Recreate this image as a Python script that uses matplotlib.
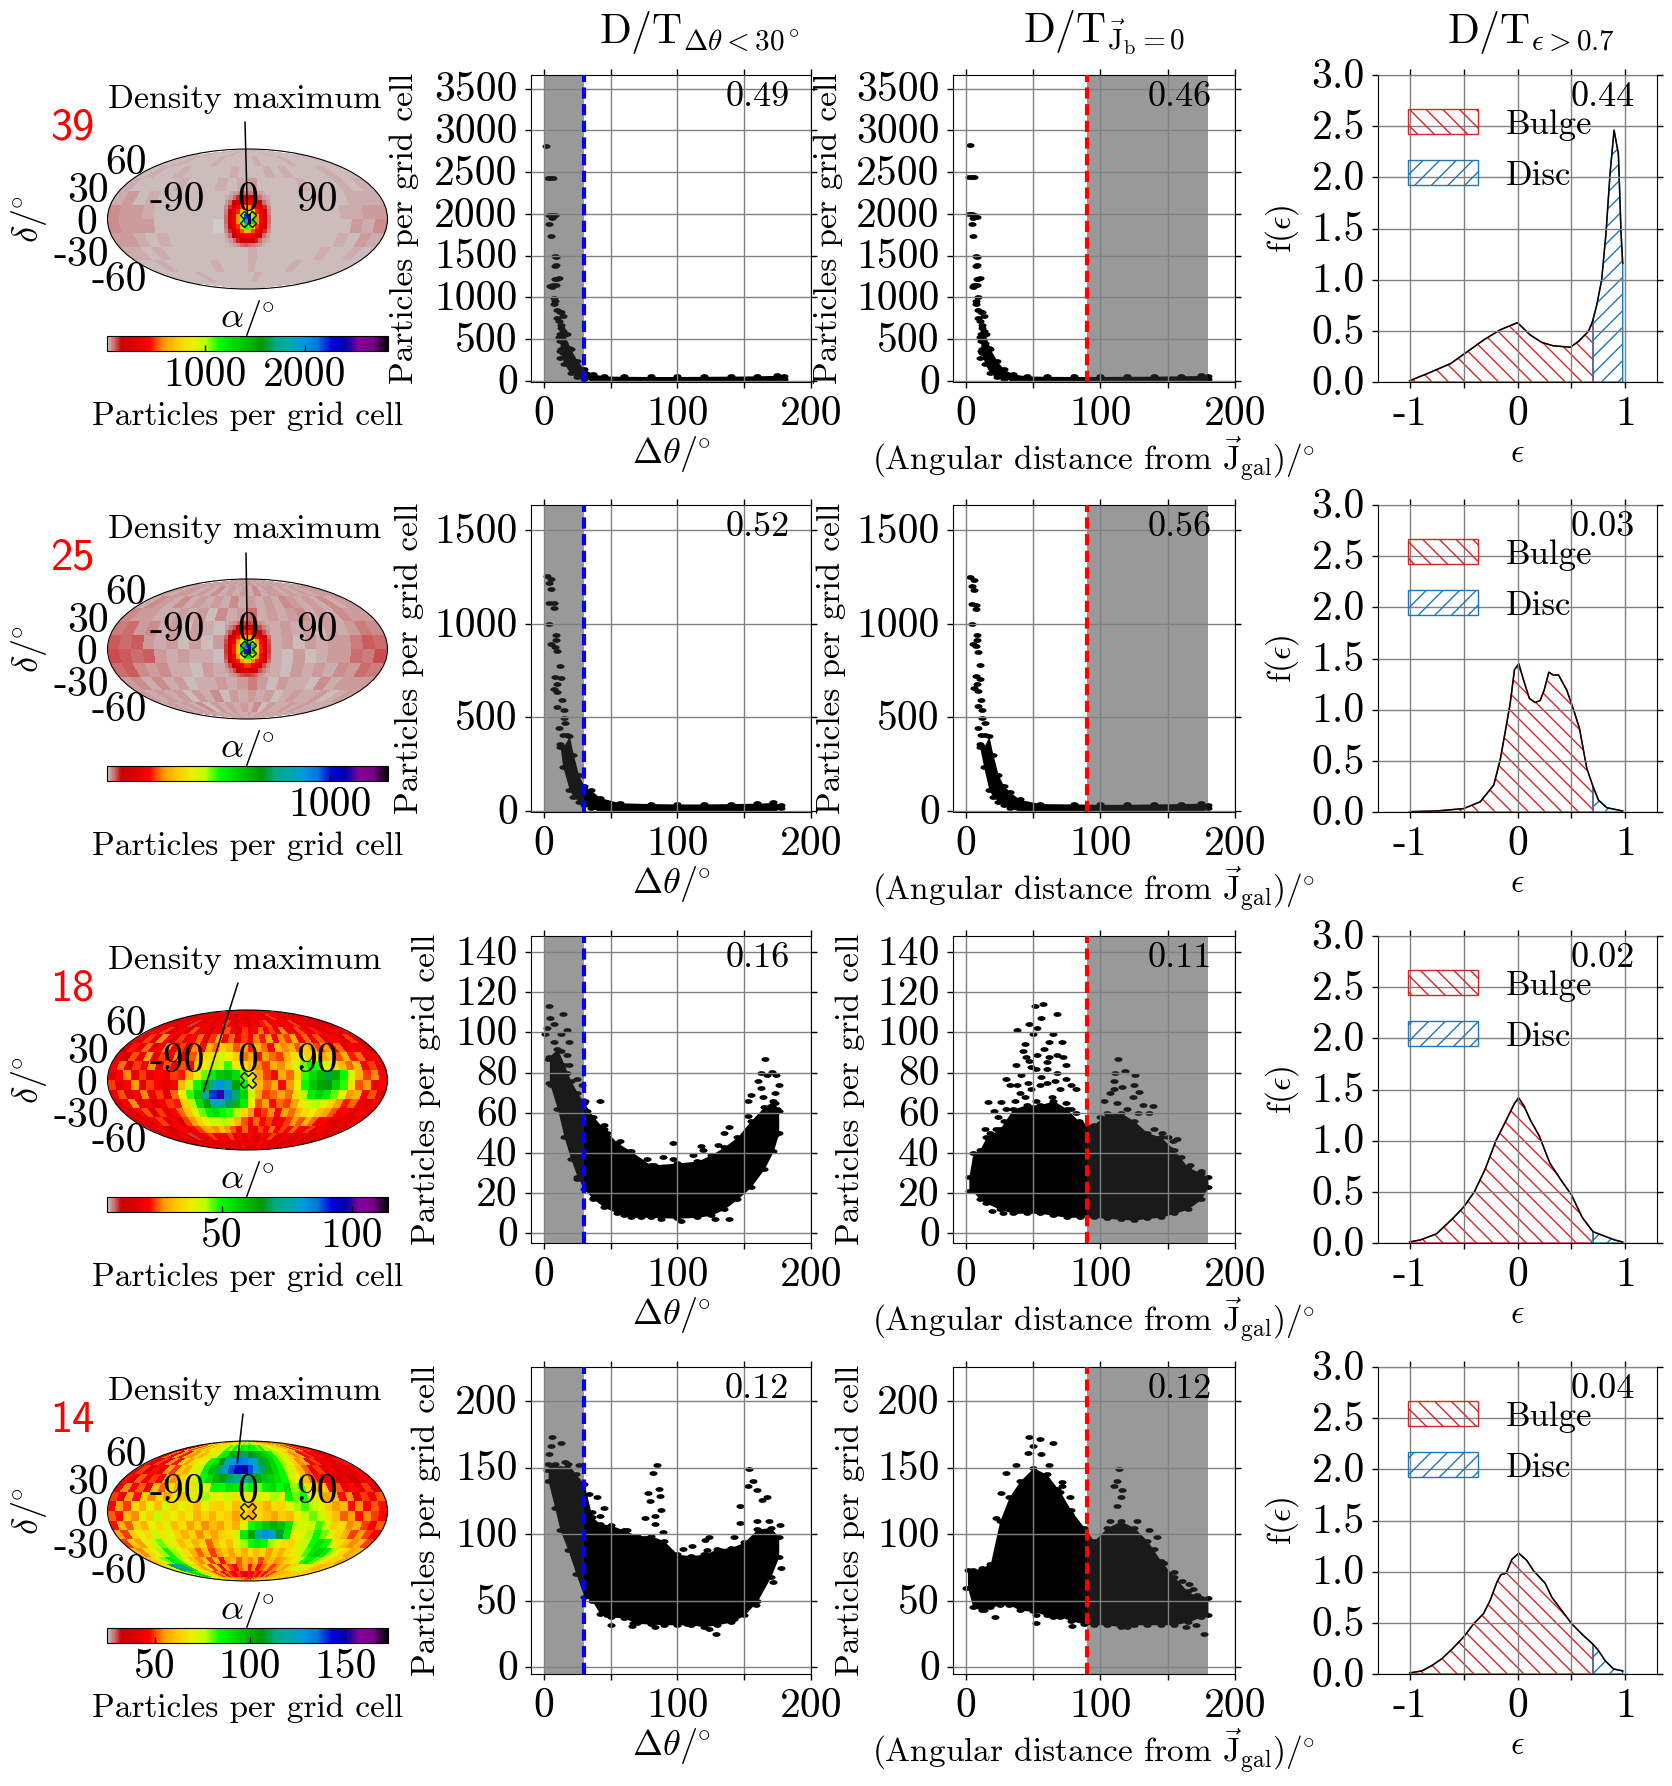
import numpy as np
import matplotlib
matplotlib.use('Agg')
import matplotlib.pyplot as plt
from matplotlib.colors import Normalize
from matplotlib.path import Path
from matplotlib.transforms import Affine2D

plt.rcParams['font.family'] = 'cmr10'
plt.rcParams['mathtext.fontset'] = 'cm'
plt.rcParams['axes.unicode_minus'] = False
plt.rcParams['axes.formatter.use_mathtext'] = True

W, H = 1672, 1786
FS = 30  # tick labels
LS = 24  # axis labels

counts = ['39', '25', '18', '14']
dt_theta = ['0.49', '0.52', '0.16', '0.12']
dt_jb = ['0.46', '0.56', '0.11', '0.12']
dt_eps = ['0.44', '0.03', '0.02', '0.04']

# sky maps: vmin, vmax, colourbar ticks, position of the density maximum (lon, lat)
vmins = [20, 20, 5.8, 25]
vmaxs = [2830, 1255, 114, 172.5]
cb_ticks = [[1000, 2000], [1000], [50, 100], [50, 100, 150]]
max_lon = [0, 0, -57, -18]
max_lat = [2, 2, -12, 53]
line_top = [(245, 122), (246, 553), (238, 983), (243, 1414)]

# 15 degree background cells, north to south
bg1 = [
[38,40,36,42,38,34,40,37,43,36,39,35,38,41,34,39,37,42,35,40,38,36,41,37],
[40,35,42,38,33,40,36,44,34,39,32,41,37,43,35,38,40,33,42,36,39,34,41,38],
[37,43,39,35,45,36,41,32,40,36,44,33,39,37,42,34,44,38,32,41,35,43,37,40],
[46,38,41,36,32,42,34,39,31,43,36,42,54,37,41,32,38,43,34,39,33,44,38,42],
[50,56,40,44,34,39,31,40,35,32,40,60,72,50,36,40,33,38,31,41,36,42,52,48],
[66,56,60,42,37,41,32,38,31,39,34,72,86,52,33,38,31,40,34,38,42,50,62,58],
[70,60,54,60,39,35,40,33,36,30,39,74,88,48,35,32,39,31,36,40,38,56,52,66],
[54,60,44,38,43,33,36,31,39,34,32,58,70,44,34,31,38,33,39,35,43,40,56,50],
[42,46,37,43,33,39,31,37,33,40,35,40,52,38,32,39,34,36,31,43,34,38,42,38],
[38,35,42,33,38,32,40,34,43,31,38,35,42,33,39,32,37,42,33,36,40,32,35,39],
[36,39,33,40,36,43,32,38,34,41,33,40,35,43,32,38,36,33,40,34,39,37,33,36],
[38,36,40,36,39,34,37,41,35,39,36,33,40,37,35,39,34,38,36,40,35,37,39,36]]
bg2 = [
[34,36,32,38,35,31,37,34,39,33,36,32,35,38,31,36,34,38,32,37,35,33,38,34],
[36,32,38,35,30,37,33,41,31,36,30,38,34,40,32,35,37,30,38,33,36,31,38,35],
[34,40,36,32,43,33,38,30,37,33,42,30,36,34,39,31,42,35,30,38,32,40,34,37],
[44,35,38,33,30,39,31,36,29,40,33,38,50,34,38,30,35,40,31,36,30,42,35,39],
[46,52,37,41,31,36,29,37,32,29,37,56,64,46,33,37,30,35,29,38,33,39,48,44],
[58,52,56,39,34,38,29,35,29,36,31,64,72,48,30,35,29,37,31,35,39,46,56,52],
[62,56,50,56,36,32,37,30,33,28,36,66,74,44,32,29,36,29,33,37,35,52,48,60],
[50,56,41,35,40,30,33,29,36,31,29,54,64,40,31,29,35,30,36,32,40,37,52,46],
[38,43,34,40,30,36,29,34,30,37,32,37,48,35,29,36,31,33,29,40,31,35,39,35],
[35,32,39,30,35,29,37,31,40,29,35,32,39,30,36,29,34,39,30,33,37,29,32,36],
[33,36,30,37,33,40,29,35,31,38,30,37,32,40,29,35,33,30,37,31,36,34,30,33],
[35,33,37,33,36,31,34,38,32,36,33,30,37,34,32,36,31,35,33,37,32,34,36,33]]

# 5 degree cells, lon and lat -30..30, over the central peak
core1 = [
[40,48,58,70,85,95,95,85,70,58,48,40],
[48,62,95,140,185,230,225,185,140,95,62,48],
[58,95,170,260,350,420,410,350,260,170,95,58],
[70,140,270,400,500,600,590,500,400,270,140,70],
[85,180,350,480,720,950,950,720,480,350,180,85],
[95,220,400,580,1050,2200,2400,1050,580,400,220,95],
[95,220,400,580,1050,2000,2800,1250,580,400,220,95],
[85,180,360,490,740,1150,1100,740,490,360,180,85],
[70,140,275,410,520,650,630,510,410,275,140,70],
[58,95,175,265,360,430,415,350,265,175,95,58],
[48,62,95,145,190,235,230,190,145,95,62,48],
[40,48,58,72,88,98,96,85,72,58,48,40]]
core2 = [
[34,38,44,52,60,66,66,60,52,44,38,34],
[38,46,62,84,110,130,128,110,84,62,46,38],
[44,62,100,145,190,225,220,190,145,100,62,44],
[52,84,145,215,260,310,305,260,210,145,84,52],
[60,105,190,270,400,530,530,400,270,190,105,60],
[66,125,215,320,560,900,1000,560,320,215,125,66],
[66,125,215,320,560,1000,1250,580,320,215,125,66],
[60,105,190,270,410,550,530,400,270,190,105,60],
[52,84,145,215,270,315,310,260,215,145,84,52],
[44,62,100,150,195,230,225,190,150,100,62,44],
[38,46,62,84,110,130,128,110,84,62,46,38],
[34,38,44,52,60,66,66,60,52,44,38,34]]

# 10 degree cells, north to south
map3 = [
[18,20,17,20,19,16,20,18,21,17,19,18,20,18,20,22,19,17,20,18,19,18,20,19,17,20,18,21,18,19,19,17,20,18,19,18],
[16,20,18,13,21,17,19,15,20,18,16,21,18,19,16,21,18,17,20,19,22,18,21,16,19,24,18,21,17,20,16,19,18,21,16,18],
[18,15,20,17,21,16,10,19,18,21,16,20,18,24,19,17,21,19,16,21,18,23,25,20,22,18,21,19,24,16,20,18,11,19,17,15],
[16,21,18,24,15,19,21,17,25,19,21,16,22,19,25,21,18,24,20,22,26,21,24,19,27,22,19,25,21,18,23,19,17,21,15,19],
[19,17,24,18,27,21,16,24,19,22,26,18,24,29,22,26,19,24,22,27,23,29,21,27,24,30,21,26,19,25,18,22,20,16,24,17],
[15,23,19,26,17,22,28,19,24,18,27,22,30,26,33,30,25,28,23,30,26,22,31,27,30,25,33,28,24,29,21,26,18,22,19,16],
[18,14,25,19,28,18,24,21,27,17,25,31,36,35,42,38,33,26,29,23,29,26,24,30,35,40,34,38,29,33,25,30,23,26,19,21],
[21,26,17,24,21,27,17,25,20,25,22,32,38,44,42,48,40,35,32,27,24,30,27,33,41,46,50,48,42,37,31,26,31,21,24,18],
[17,22,27,19,24,18,22,19,24,23,30,40,46,52,58,60,54,46,37,29,24,22,30,26,36,48,54,60,68,62,50,41,30,24,27,21],
[24,18,22,28,17,24,21,18,21,31,42,50,60,74,82,76,64,50,39,31,26,30,22,28,38,50,58,64,66,56,48,37,25,28,19,22],
[19,25,17,22,27,19,24,17,26,38,48,58,72,90,100,86,70,56,41,29,24,26,29,26,35,44,52,56,52,46,38,28,30,21,25,18],
[17,21,27,18,22,15,21,24,23,34,44,54,64,76,74,68,60,52,38,25,29,22,26,24,29,37,42,44,40,34,28,23,26,19,17,21],
[19,15,22,25,17,24,18,22,26,32,40,46,52,54,50,48,44,35,28,22,24,27,22,29,26,31,35,38,32,29,25,21,22,17,21,18],
[15,19,17,21,24,18,21,17,24,28,34,38,42,41,44,36,31,25,22,26,21,24,19,22,24,28,25,31,26,21,22,18,15,19,17,21],
[18,14,21,17,12,19,22,18,21,24,28,30,27,32,28,25,22,26,21,18,24,21,26,19,24,21,26,22,19,24,17,21,18,12,19,15],
[17,19,15,18,21,15,10,19,17,21,24,19,22,19,24,18,21,17,22,19,17,21,18,24,19,17,21,18,11,19,21,15,18,19,15,18],
[17,15,18,17,19,16,18,15,19,17,18,21,17,19,18,16,20,18,17,21,15,19,22,17,19,18,15,19,17,18,16,19,17,15,18,17],
[18,17,18,16,18,19,17,18,16,18,19,17,20,18,16,18,23,17,18,16,19,18,17,19,16,18,17,18,20,16,18,17,18,16,18,18]]
map4 = [
[50,58,64,60,68,56,62,70,66,72,68,74,70,78,72,76,80,74,78,82,76,72,78,70,74,66,70,62,68,60,64,56,62,52,58,54],
[48,42,56,50,62,54,66,60,70,66,74,70,82,78,84,80,88,84,92,86,84,80,86,76,78,70,74,64,68,58,62,50,56,44,50,46],
[40,52,46,56,48,60,54,64,58,68,74,70,84,90,100,104,110,112,106,108,100,96,92,86,78,76,68,62,54,58,46,50,42,48,40,44],
[46,40,50,44,54,48,62,56,66,72,70,84,92,106,120,128,134,132,128,122,110,100,94,84,78,70,64,54,58,46,50,42,46,38,44,48],
[42,50,40,48,42,56,50,62,58,70,76,88,98,112,128,138,146,150,138,124,112,100,92,84,76,66,60,52,44,50,42,46,38,44,40,44],
[48,40,52,44,50,46,60,54,64,68,74,84,92,100,104,112,116,118,112,102,96,94,90,84,74,70,60,52,48,40,46,38,44,36,42,46],
[42,54,46,52,44,60,52,66,58,70,66,76,72,86,84,90,88,82,86,80,88,92,84,90,78,82,66,58,62,46,52,44,48,42,50,40],
[50,44,56,48,62,54,64,56,68,60,74,66,78,72,70,76,66,72,68,74,70,78,74,86,80,84,72,66,56,60,48,54,42,50,44,52],
[46,56,50,66,58,70,60,74,64,72,66,60,70,64,62,68,60,66,60,64,58,66,64,72,78,82,76,70,62,56,60,48,54,46,52,48],
[52,48,60,54,72,62,76,66,70,62,68,58,64,58,66,62,56,62,58,64,60,56,62,60,70,76,80,74,66,60,52,56,48,54,50,46],
[48,58,52,64,58,70,64,72,60,66,56,62,54,60,56,64,58,72,84,90,96,102,98,90,76,72,76,82,74,62,66,54,58,50,46,52],
[56,50,62,70,64,76,68,72,64,58,64,54,62,56,62,66,74,88,104,120,130,124,108,88,70,70,78,86,80,72,64,58,50,56,50,46],
[50,62,56,68,74,80,74,68,60,66,58,64,52,60,66,60,72,78,84,88,84,78,70,66,64,72,76,84,90,84,74,66,60,54,58,50],
[60,54,66,70,78,86,78,72,66,58,52,60,50,56,62,56,64,58,66,60,64,56,62,58,66,68,74,82,90,94,88,78,70,64,56,60],
[58,64,72,80,90,84,76,68,60,54,62,50,58,48,56,60,52,58,54,60,50,56,60,54,58,64,68,74,84,88,82,76,68,62,64,56],
[66,72,100,128,112,90,76,62,56,64,50,58,46,54,50,44,52,56,48,54,46,52,56,50,54,60,56,64,66,72,74,68,64,60,58,62],
[66,74,86,94,86,74,64,70,58,50,56,46,52,48,44,50,46,42,48,44,50,46,52,48,54,50,56,60,58,64,60,66,62,60,64,62],
[64,70,74,78,72,68,62,66,60,56,60,54,58,52,56,50,54,50,44,52,48,54,50,56,52,58,54,60,56,62,58,64,60,62,60,62]]

# scatter panels: single points, then the solid part of the cloud (x, lower, upper)
th1_x = [1.5,3,5,7,4,6,8,4,5,8,8,8,10,4.5,9,7.5,7.5,12,10,12.4,15,11,15,14,17,6,7,9,9,11,7,6,8,10,13,14,11,13,14,17,12,16,13,19,12]
th1_y = [2817,2430,2430,2430,1985,1985,1985,1885,1735,1500,1380,1225,1215,1135,1150,990,920,830,750,670,550,530,450,330,330,1950,1970,1480,1385,1230,1150,1130,960,850,820,780,720,640,600,560,480,420,380,390,280]
th1_cx = [12,15,20,25,30,37,45,60,80,100,120,140,160,175,180]
th1_lo = [360,200,90,45,25,10,0,0,0,0,0,0,0,0,20]
th1_hi = [560,560,380,240,140,85,60,56,54,54,56,58,62,68,55]

ja1_x = [3,2,4,6,2,4,6,8,4,5,7,7,8,9,5,8,9,7,11,9,12,13,10,14,12,5,6,8,8,10,6,5,7,9,12,13,10,12,13,15,11,14,12,17,10]
ja1_y = [2820,2440,2440,2440,2000,2000,1985,1960,1880,1740,1500,1380,1225,1225,1135,1150,1000,920,830,750,670,550,530,450,330,1950,1970,1480,1385,1230,1150,1130,960,850,820,780,720,640,600,560,480,420,380,390,280]
ja1_cx = [11,14,18,23,28,35,45,60,80,100,120,140,160,175,180]
ja1_lo = [360,200,90,45,25,10,0,0,0,0,0,0,0,0,20]
ja1_hi = [560,560,380,240,140,85,60,56,54,54,56,58,62,66,55]

th2_x = [2.5,5,3.7,5,3.7,7.5,7.5,4,8.7,8.7,5,8,10,12,8,12.4,10,7.5,10,13.7,10,15,15,11,16,17.4,14]
th2_y = [1256,1238,1217,1187,1110,1110,1084,998,938,915,893,879,856,775,718,709,679,652,638,593,558,540,495,442,469,406,406]
th2_cx = [12,14,19,22,26,30,35,42,57,80,100,120,140,160,172,178]
th2_lo = [344,237,112,77,50,30,15,0,0,0,0,0,0,0,0,15]
th2_hi = [360,340,400,300,190,135,112,72,44,40,38,38,40,42,46,32]

ja2_x = [3,6,4,6,4,7,7,4,8,8,5,7,9,10,7,10,8,6,9,11,9,12,12,9,14,14,11]
ja2_y = [1250,1235,1200,1180,1105,1100,1080,1000,940,915,895,880,850,780,720,705,680,655,640,595,560,540,495,445,470,405,405]
ja2_cx = [10,13,17,20,24,28,33,40,55,80,100,120,140,160,175,180]
ja2_lo = [344,237,112,77,50,30,15,0,0,0,0,0,0,0,0,15]
ja2_hi = [360,340,400,300,190,135,100,62,40,38,36,36,38,40,42,32]

th3_x = [3.7,14.4,4.2,7.5,2.5,17,1,12.4,18.7,7.5,12.4,17.4,3.2,19,8,17.4,25,5,28.6,31,42,32,45,47,57,97,118,130.6,119,64.7,77,89.5,112,97,82.5,25,37,60,73,88,103,128,139,166,170.6,163,167,174,160.5,176,163,173,155.4,164,173,153,174.4,153,139,135,173]
th3_y = [113,109,107,104,102,101,99,99,95,95,91,89,87,84,83,80,77,74,74,66,66,61,54,50,46,45,43.5,44,41.5,41,37,38,39,37,34,27,17.5,9,8,7,6,7,7,87,80.5,80,79,79,76,74,72.5,70,69,68,65,66,62,58.6,53,50,49]
th3_cx = [4,10,15,20,25,30,37,45,55,65,80,100,115,125,135,145,155,165,172,176]
th3_lo = [75,62,48,37,28,22,17,13,10,8,8,7.5,8,9,12,17,23,32,41,50]
th3_hi = [88,92,84,76,70,65,58,52,45,41,34,35,36,39,43,48,56,63,66,61]

ja3_x = [57,51,68,56,46.6,53,38,50,65,71,62,43.6,42.6,53,68,44.6,113,60,37,74,48.6,60,41,68,111,118,126,30,74,110,46,55,125,33,78,110,82,129,16,26,139,21,157,152,160,167,175,19,27.6,36,
         30,36,38,40,44,48,52,56,60,64,70,74,78,82,84,28,24,22,18,14,103,107,112,116,120,124,128,132,136,100,140,146,150,154,72,62,58,66,47,52]
ja3_y = [114,113,109,107,104,102,101,99,99,95,95,94,91,89,89,88,87,85.5,84,84,83,82,79,80,80,81,79,77,77,76,75,74,74,74,74,72,72,70.6,65.6,65.6,63.6,61,47,42,38,34,31,11,10,11,
         62,66,74,70,68,72,66,78,75,68,72,65,62,60,56,56,58,52,50,52,66,70,65,73,62,68,60,64,60,58,52,50,48,46,88,88,92,76,86,82]
ja3_cx = [2,5,10,15,25,35,45,55,65,75,85,95,105,115,125,135,145,155,165,175,180]
ja3_lo = [21,21,17,15,12,10,10,10,9,8,8,8,7.5,7,6.6,7.5,8,10,12,17,23]
ja3_hi = [28,40,41.5,48,52,62,64,64,66,62,55,54,60,60,56,50,48,41.5,33,30,28]

th4_x = [6,13,5,3.7,2.5,16,26,85,82,154,157,153,160,86,78,33.6,40,167,163.5,79.5,87,45,88,147,36,83,76,42,147,160,169,176.6,83,62,89,124,121,142.6,110.7,104.5,122,132,178,171.6,159,47,50,67,66,83,124,129,142.6,107]
th4_y = [173,168.5,166,160,148.6,154,152,152,146,149,140,136.6,133.6,134,131,130,128,128,126,125,129,120,118,121,116.5,114,112,113.5,108.6,110,110,107,108,103,101.6,98,96,98,91,89,88,88.4,75,64,46.7,39,32,33.7,31,30,29,25,36.7,32.5]
th4_cx = [3,8,12,18,24,30,36,42,50,60,70,80,90,100,110,120,130,140,150,160,170,176]
th4_lo = [140,120,103,88,70,53,50,40,38,37,33,32.5,32,32,32,30.5,32,34,39,50,68,83]
th4_hi = [153,153,150,153,145,138,113,108,107,103,99,99,95,85,84,85,89,90,94,104,105,98]

ja4_x = [46.6,55,65,50,46,56,37,62,29.6,114,112,110,116,71,71,68,26,77,115,112,22,77,107,127,136,142,140,147,155,161,166,169,172,177.4,171,163.7,21.6,52,52,65,79,120,13,0]
ja4_y = [173,171.5,168.5,166,161,160,152,152,146,149,140,136.6,133.6,139,136.6,134,131,128,128,121.6,112,115,110,110,103,98,89,78.6,71.6,65,63,59,54.7,25,32,30,38,33,39,38,31,30.5,43,60]
ja4_cx = [1,5,12,18,25,32,40,50,60,70,78,88,95,105,115,125,135,145,155,165,175,180]
ja4_lo = [60,45,43,45,47,47,43,42,39,38,35,32.5,32,32,30.5,32,32,32,32,34,38,39]
ja4_hi = [73,73,75,78,110,128,140,150,145,132,118,105,95,105,110,105,95,80,68,57,52,52]

th_x = [th1_x, th2_x, th3_x, th4_x]
th_y = [th1_y, th2_y, th3_y, th4_y]
th_c = [(th1_cx, th1_lo, th1_hi), (th2_cx, th2_lo, th2_hi), (th3_cx, th3_lo, th3_hi), (th4_cx, th4_lo, th4_hi)]
ja_x = [ja1_x, ja2_x, ja3_x, ja4_x]
ja_y = [ja1_y, ja2_y, ja3_y, ja4_y]
ja_c = [(ja1_cx, ja1_lo, ja1_hi), (ja2_cx, ja2_lo, ja2_hi), (ja3_cx, ja3_lo, ja3_hi), (ja4_cx, ja4_lo, ja4_hi)]

ylims = [(-12, 3663), (-5, 1635), (-4.8, 148), (-5, 225.7)]
yticks = [list(range(0, 3501, 500)), [0, 500, 1000, 1500], list(range(0, 141, 20)), [0, 50, 100, 150, 200]]

# circularity distributions
eps1 = [-1,-.84,-.62,-.44,-.315,-.16,0,.117,.225,.33,.49,.565,.657,.69,.7,.735,.78,.82,.858,.895,.935,.96,.975]
f1 = [.012,.08,.18,.315,.41,.51,.58,.46,.387,.354,.34,.397,.494,.575,.61,.754,.998,1.45,2.04,2.46,2.23,1.45,1.16]
eps2 = [-1,-.75,-.5,-.345,-.22,-.16,-.1,-.068,-.028,.012,.056,.11,.164,.21,.247,.29,.333,.38,.457,.52,.574,.642,.69,.7,.75,.827,.975]
f2 = [.003,.01,.033,.1,.264,.51,.867,1.06,1.39,1.448,1.29,1.11,1.07,1.09,1.19,1.366,1.337,1.34,1.19,.998,.818,.427,.28,.25,.117,.042,.01]
eps3 = [-1,-.9,-.75,-.6,-.5,-.4,-.3,-.2,-.1,-.03,.01,.06,.12,.2,.3,.4,.5,.6,.7,.8,.9,.975]
f3 = [.01,.03,.09,.24,.35,.5,.72,1.0,1.21,1.36,1.42,1.34,1.2,1.05,.78,.62,.47,.25,.11,.07,.03,.01]
eps4 = [-1,-.886,-.79,-.7,-.61,-.5,-.407,-.315,-.253,-.19,-.154,-.105,-.052,.012,.086,.148,.256,.318,.503,.61,.69,.7,.75,.81,.889,.975]
f4 = [.01,.03,.085,.15,.24,.36,.49,.59,.72,.9,.97,.985,1.12,1.18,1.11,1.01,.887,.75,.49,.377,.3,.29,.23,.133,.05,.03]
eps_all = [eps1, eps2, eps3, eps4]
f_all = [f1, f2, f3, f4]

bottoms = [382, 812, 1243, 1674]
hgt = 307
ylab_x2 = [404, 409, 426, 426]
ylab_x3 = [828, 831, 850, 850]
titles = [(699, r'$\mathrm{D/T}_{\Delta\theta<30^\circ}$'),
          (1104, r'$\mathrm{D/T}_{\vec{\mathrm{J}}_\mathrm{b}=0}$'),
          (1531, r'$\mathrm{D/T}_{\epsilon>0.7}$')]

oval = Path.unit_circle().transformed(Affine2D().scale(1.7, 1))
fig = plt.figure(figsize=(W / 100, H / 100), dpi=100)


def box(left, right, bottom, height):
    return [left / W, 1 - bottom / H, (right - left) / W, height / H]


def sky(lon_edges, lat_edges, values, ax, norm):
    return ax.pcolormesh(np.radians(lon_edges), np.radians(lat_edges), values,
                         cmap='nipy_spectral_r', norm=norm, shading='flat')


def style(ax):
    ax.set_axisbelow(False)
    ax.grid(True, color='#808080', lw=1)
    ax.tick_params(labelsize=FS, length=4.5, width=1, top=True, right=True, pad=5)
    for lab in ax.get_yticklabels():
        lab.set_transform(lab.get_transform() + Affine2D().translate(0, 2))


def scatter_panel(ax, i, xs, ys, cloud, band, line, color):
    ax.fill_between(cloud[0], cloud[1], cloud[2], color='k', lw=0, zorder=2)
    ax.scatter(cloud[0], cloud[1], marker=oval, s=34, c='k', linewidths=0, zorder=2)
    ax.scatter(cloud[0], cloud[2], marker=oval, s=34, c='k', linewidths=0, zorder=2)
    ax.scatter(xs, ys, marker=oval, s=34, c='k', linewidths=0, zorder=2)
    ax.axvspan(band[0], band[1], color='#343434', alpha=0.5, lw=0, zorder=2.3)
    ax.axvline(line, color=color, ls=(0, (2.7, 1.3)), lw=3, zorder=3)
    ax.set_ylim(*ylims[i])
    ax.set_yticks(yticks[i])
    ax.set_yticklabels([str(v) for v in yticks[i]])
    ax.set_xlim(-9.8, 200.2)
    ax.set_xticks([0, 50, 100, 150, 200])
    ax.set_xticklabels(['0', '', '100', '', '200'])
    style(ax)


for i in range(4):
    row_dy = bottoms[i] - 382

    # sky map
    ax = fig.add_axes(box(107, 388, 289 + row_dy, 140), projection='mollweide')
    norm = Normalize(vmins[i], vmaxs[i])
    if i < 2:
        mesh = sky(np.arange(-180, 181, 15), np.arange(90, -91, -15), [bg1, bg2][i], ax, norm)
        sky(np.arange(-30, 31, 5), np.arange(30, -31, -5), [core1, core2][i], ax, norm)
    else:
        mesh = sky(np.arange(-180, 181, 10), np.arange(90, -91, -10), [map3, map4][i - 2], ax, norm)
    ax.plot(0, 0, marker='X', mfc='none', mec='k', ms=12, mew=1)
    ax.set_longitude_grid(90)
    ax.set_latitude_grid(30)
    ax.set_xticklabels(['-90', '0', '90'])
    ax.set_yticklabels(['-60', '-30', '0', '30', '60'])
    ax.tick_params(labelsize=FS)
    ax.grid(False)
    for lab in ax.get_xticklabels():
        lab.set_transform(lab.get_transform() + Affine2D().translate(0, -4))
    for lab, dy in zip(ax.get_yticklabels(), [-3, -5, -4, -3, -3]):
        lab.set_transform(lab.get_transform() + Affine2D().translate(-2, dy))
    ax.set_xlabel(r'$\alpha/\!^\circ$', fontsize=LS + 2, va='center')
    ax.xaxis.set_label_coords(0.5, -29 / 140)
    ax.set_ylabel(r'$\delta/\!^\circ$', fontsize=LS + 2, va='center')
    ax.yaxis.set_label_coords((28 - 107) / 281, 0.5)
    ax.annotate('', xy=(np.radians(max_lon[i]), np.radians(max_lat[i])),
                xytext=(line_top[i][0], H - line_top[i][1]), textcoords='figure pixels',
                arrowprops=dict(arrowstyle='-', color='k', lw=1.1, shrinkA=0, shrinkB=0),
                annotation_clip=False)
    fig.text(245 / W, 1 - (99 + row_dy) / H, 'Density maximum', fontsize=24.5, ha='center', va='center')
    fig.text(72 / W, 1 - (128 + row_dy) / H, counts[i], fontsize=32, color='red', family='cmss10',
             ha='center', va='center')

    cax = fig.add_axes(box(107, 388, 351 + row_dy, 15))
    cb = fig.colorbar(mesh, cax=cax, orientation='horizontal')
    cb.set_ticks(cb_ticks[i])
    cb.set_ticklabels([str(v) for v in cb_ticks[i]])
    cax.tick_params(labelsize=FS, direction='in', length=4.5, width=1, pad=4)
    cb.set_label('Particles per grid cell', fontsize=LS, va='center')
    cax.xaxis.set_label_coords(0.5, -65 / 15)

    # angle from the disc plane
    ax = fig.add_axes(box(531, 811, bottoms[i], hgt))
    scatter_panel(ax, i, th_x[i], th_y[i], th_c[i], (0, 30), 30, 'blue')
    ax.text(0.923, 0.928, dt_theta[i], transform=ax.transAxes, fontsize=26, ha='right', va='center', zorder=5)
    ax.set_xlabel(r'$\Delta\theta/\!^\circ$', fontsize=LS + 2, va='center')
    ax.xaxis.set_label_coords(0.5, -72 / hgt)
    ax.set_ylabel('Particles per grid cell', fontsize=LS, va='center')
    ax.yaxis.set_label_coords((ylab_x2[i] - 531) / 280, 0.5)

    # angle from the angular momentum
    ax = fig.add_axes(box(953, 1235, bottoms[i], hgt))
    scatter_panel(ax, i, ja_x[i], ja_y[i], ja_c[i], (90, 180), 90, 'red')
    ax.text(0.918, 0.928, dt_jb[i], transform=ax.transAxes, fontsize=26, ha='right', va='center', zorder=5)
    ax.set_xlabel(r'(Angular distance from $\vec{\mathrm{J}}_\mathrm{gal}$)/$\!^\circ$', fontsize=LS, va='center')
    ax.xaxis.set_label_coords(0.5, -77 / hgt)
    ax.set_ylabel('Particles per grid cell', fontsize=LS, va='center')
    ax.yaxis.set_label_coords((ylab_x3[i] - 953) / 282, 0.5)

    # circularity
    ax = fig.add_axes(box(1378, 1657, bottoms[i], hgt))
    e = np.array(eps_all[i])
    f = np.array(f_all[i])
    ax.fill_between(e[e <= 0.7], 0, f[e <= 0.7], facecolor='none', edgecolor='tab:red', hatch='\\\\', lw=1, label='Bulge')
    ax.fill_between(e[e >= 0.7], 0, f[e >= 0.7], facecolor='none', edgecolor='tab:blue', hatch='//', lw=1, label='Disc')
    ax.plot(e, f, color='k', lw=1.1)
    ax.set_xlim(-1.293, 1.293)
    ax.set_ylim(0, 3)
    ax.set_xticks([-1, -0.5, 0, 0.5, 1])
    ax.set_xticklabels(['-1', '', '0', '', '1'])
    ax.set_yticks([0, 0.5, 1, 1.5, 2, 2.5, 3])
    ax.set_yticklabels(['0.0', '0.5', '1.0', '1.5', '2.0', '2.5', '3.0'])
    style(ax)
    ax.legend(loc='upper left', bbox_to_anchor=(0.108, 0.889), frameon=False, fontsize=25,
              borderpad=0, borderaxespad=0, labelspacing=0.56)
    ax.text(0.921, 0.928, dt_eps[i], transform=ax.transAxes, fontsize=26, ha='right', va='center', zorder=5)
    ax.set_xlabel(r'$\epsilon$', fontsize=LS, va='center')
    ax.xaxis.set_label_coords(0.5, -71 / hgt)
    ax.set_ylabel(r'f($\epsilon$)', fontsize=LS, va='center')
    ax.yaxis.set_label_coords((1282 - 1378) / 279, 0.5)

for tx, label in titles:
    fig.text(tx / W, 1 - 33 / H, label, fontsize=30, ha='center', va='center')

fig.savefig('out.png', dpi=100, facecolor='white')
